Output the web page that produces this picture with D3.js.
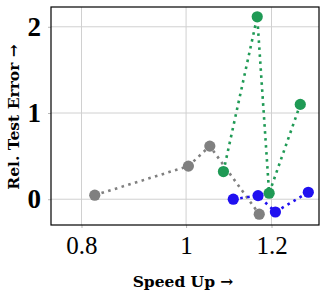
<!DOCTYPE html>
<html>
<head>
<meta charset="utf-8">
<style>
  body { margin: 0; background: #fff; }
</style>
</head>
<body>
<div class="chart"></div>
<script src="https://d3js.org/d3.v7.min.js"></script>
<script>
  // data
  const greySpeed = [0.823, 1.005, 1.052, 1.169]
  const greyErr = [0.047, 0.384, 0.616, -0.174]
  const greenSpeed = [1.083, 1.164, 1.194, 1.276]
  const greenErr = [0.321, 2.116, 0.07, 1.10]
  const blueSpeed = [1.106, 1.166, 1.210, 1.298]
  const blueErr = [0.0, 0.042, -0.148, 0.081]
  const xTicks = [0.8, 1, 1.2]
  const yTicks = [0, 1, 2]

  const width = 325,
        height = 296,
        mLeft = 51, mRight = 319, mTop = 7, mBottom = 225

  const svg = d3.select('.chart')
                .append('svg')
                .attr('width', width)
                .attr('height', height)

  // x 軸是對數刻度
  const xScale = d3.scaleLog()
                   .domain([0.7496, 1.328])
                   .range([mLeft, mRight])
  const yScale = d3.scaleLinear()
                   .domain([-0.299, 2.2296])
                   .range([mBottom, mTop])

  // grid
  svg.append('g')
     .selectAll('line')
     .data(xTicks)
     .join('line')
     .attr('x1', d => xScale(d)).attr('x2', d => xScale(d))
     .attr('y1', mTop).attr('y2', mBottom)
     .attr('stroke', '#d0d0d0').attr('stroke-width', 1)
  svg.append('g')
     .selectAll('line')
     .data(yTicks)
     .join('line')
     .attr('x1', mLeft).attr('x2', mRight)
     .attr('y1', d => yScale(d)).attr('y2', d => yScale(d))
     .attr('stroke', '#d0d0d0').attr('stroke-width', 1)

  // axes
  const xAxis = d3.axisBottom(xScale)
                  .tickValues(xTicks)
                  .tickFormat(d => d3.format('')(d))
                  .tickSize(3)
                  .tickPadding(8)
  const xg = svg.append('g')
                .attr('transform', `translate(0,${mBottom})`)
                .call(xAxis)
  xg.select('.domain').remove()
  xg.selectAll('line').attr('stroke', '#888').attr('stroke-width', 0.6)
  xg.selectAll('text')
    .style('font-family', '"Liberation Serif", serif')
    .style('font-size', '25px')
    .attr('fill', '#000')

  const yAxis = d3.axisLeft(yScale)
                  .tickValues(yTicks)
                  .tickFormat(d3.format('d'))
                  .tickSize(3)
                  .tickPadding(7)
  const yg = svg.append('g')
                .attr('transform', `translate(${mLeft},0)`)
                .call(yAxis)
  yg.select('.domain').remove()
  yg.selectAll('line').attr('stroke', '#888').attr('stroke-width', 0.6)
  yg.selectAll('text')
    .style('font-family', '"Liberation Serif", serif')
    .style('font-weight', 'bold')
    .style('font-size', '27px')
    .attr('fill', '#000')

  // frame
  svg.append('rect')
     .attr('x', mLeft).attr('y', mTop)
     .attr('width', mRight - mLeft).attr('height', mBottom - mTop)
     .attr('fill', 'none').attr('stroke', '#000').attr('stroke-width', 1.2)

  // series
  const series = [
    {xs: greySpeed, ys: greyErr, color: '#808080'},
    {xs: greenSpeed, ys: greenErr, color: '#1f9a55'},
    {xs: blueSpeed, ys: blueErr, color: '#2010f0'}
  ]
  const line = d3.line()
                 .x(d => xScale(d[0]))
                 .y(d => yScale(d[1]))

  series.forEach(s => {
    const pts = s.xs.map((x, i) => [x, s.ys[i]])
    svg.append('path')
       .datum(pts)
       .attr('d', line)
       .attr('fill', 'none')
       .attr('stroke', s.color)
       .attr('stroke-width', 2.6)
       .attr('stroke-dasharray', '2.6 4.4')
    svg.append('g')
       .selectAll('circle')
       .data(pts)
       .join('circle')
       .attr('cx', d => xScale(d[0]))
       .attr('cy', d => yScale(d[1]))
       .attr('r', 5.6)
       .attr('fill', s.color)
  })

  // axis labels
  svg.append('text')
     .attr('x', (mLeft + mRight) / 2 - 2)
     .attr('y', 287)
     .attr('text-anchor', 'middle')
     .style('font-family', '"DejaVu Serif", serif')
     .style('font-weight', 'bold')
     .style('font-size', '15.5px')
     .text('Speed Up →')
  svg.append('text')
     .attr('transform', `translate(19,${(mTop + mBottom) / 2 + 1}) rotate(-90)`)
     .attr('text-anchor', 'middle')
     .style('font-family', '"DejaVu Serif", serif')
     .style('font-weight', 'bold')
     .style('font-size', '15.5px')
     .text('Rel. Test Error →')
</script>
</body>
</html>
